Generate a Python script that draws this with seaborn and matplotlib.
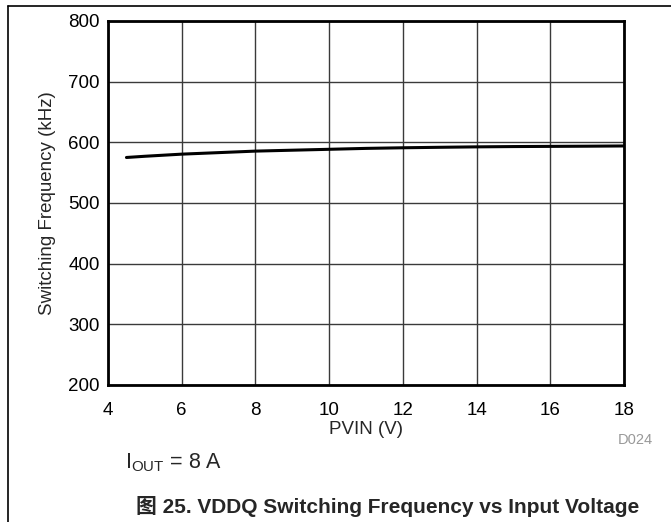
import numpy as np
import pandas as pd
import matplotlib.pyplot as plt
import seaborn as sns
from matplotlib.lines import Line2D

# data
pvin = [4.5, 5, 6, 7, 8, 9, 10, 11, 12, 13, 14, 15, 16, 17, 18]
freq = [575, 577, 580.5, 583, 585.5, 587, 588.5, 590, 591, 591.8, 592.5, 593, 593.3, 593.6, 594]
x_ticks = [4, 6, 8, 10, 12, 14, 16, 18]
y_ticks = [200, 300, 400, 500, 600, 700, 800]

df = pd.DataFrame({'PVIN': pvin, 'Freq': freq})

sns.set_style('white')
plt.rcParams['font.family'] = ['Liberation Sans', 'Noto Sans CJK SC', 'DejaVu Sans']

fig = plt.figure(figsize=(6.71, 5.22), dpi=100)
ax = fig.add_axes([0.161, 0.2625, 0.769, 0.6973])

sns.lineplot(data=df, x='PVIN', y='Freq', ax=ax, color='black', linewidth=2.2)

ax.set_xlim(4, 18)
ax.set_ylim(200, 800)
ax.set_xticks(x_ticks)
ax.set_yticks(y_ticks)
ax.tick_params(axis='x', labelsize=13.5, length=0, pad=12, colors='black')
ax.tick_params(axis='y', labelsize=13.5, length=0, pad=6, colors='black')
ax.grid(True, color='#3a3a3a', linewidth=1)
for s in ax.spines.values():
    s.set_color('black')
    s.set_linewidth(2)

ax.set_xlabel('PVIN (V)', fontsize=13.5, labelpad=2)
ax.set_ylabel('Switching Frequency (kHz)', fontsize=13.5, labelpad=9)

# annotations under the plot
fig.text(0.973, 0.157, 'D024', fontsize=10.5, color='#999999', ha='right', va='center')
fig.text(0.186, 0.113, r'I$_{\mathregular{OUT}}$ = 8 A', fontsize=15.5, ha='left', va='center')
fig.text(0.578, 0.029, '图 25. VDDQ Switching Frequency vs Input Voltage',
         fontsize=15, fontweight='bold', ha='center', va='center')

# page frame: top and left edges
fig.add_artist(Line2D([0.0119, 1.0], [0.9885, 0.9885], color='black', linewidth=1.2))
fig.add_artist(Line2D([0.0119, 0.0119], [0.0, 0.9885], color='black', linewidth=1.2))

fig.savefig('out.png', dpi=100)
